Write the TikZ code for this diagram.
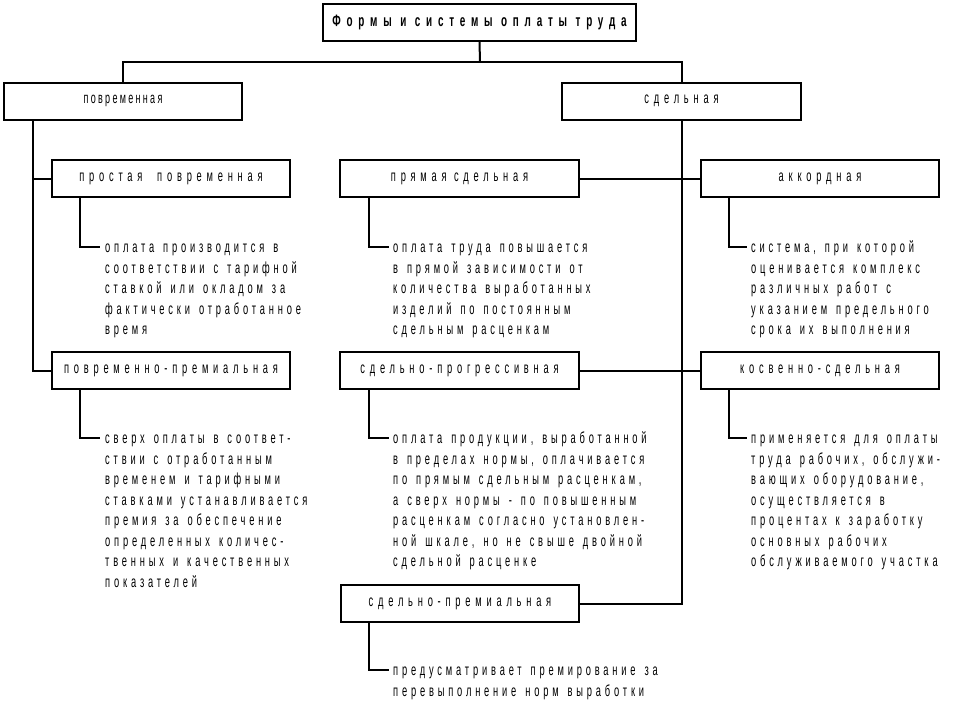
\documentclass[tikz,border=0pt]{standalone}
\usepackage{fontspec}
\setmainfont{Liberation Sans}
\newfontfamily\nf[FakeStretch=0.58,LetterSpace=24,WordSpace=1.4]{Liberation Sans}
\newfontfamily\bxf[FakeStretch=0.58,LetterSpace=30]{Liberation Sans}
\newfontfamily\nnf[FakeStretch=0.58,LetterSpace=15]{Liberation Sans}
\newfontfamily\tf[FakeStretch=0.6,LetterSpace=35]{Liberation Sans}
\newcommand\desctext[1]{\parbox[t]{320pt}{\nf\fontsize{16}{20.5}\selectfont #1}}
\tikzset{
  box/.style={draw, line width=2pt, minimum width=238pt, minimum height=37pt, inner sep=0pt,
    font=\bxf\fontsize{16}{18}\selectfont},
  conn/.style={line width=2pt},
  desc/.style={anchor=base west, inner sep=0pt}
}
\begin{document}
\begin{tikzpicture}[x=1pt,y=-1pt]
\useasboundingbox (0,0) rectangle (960,720);
% boxes
\node[box, minimum width=313pt, font=\tf\bfseries\fontsize{16.5}{18}\selectfont] (title) at (479.5,22.5) {Формы и системы оплаты труда};
\node[box, font=\nnf\fontsize{15.5}{18}\selectfont] (vr) at (123,101) {повременная};
\node[box, minimum width=239pt] (sd) at (681.5,101) {сдельная};
\node[box] (ps) at (171,178.5) {простая\ \ повременная};
\node[box] (vp) at (171,370.5) {повременно-премиальная};
\node[box, minimum width=239pt] (pr) at (459.5,178.5) {прямая сдельная};
\node[box, minimum width=239pt] (pg) at (459.5,370.5) {сдельно-прогрессивная};
\node[box] (sp) at (460,603.5) {сдельно-премиальная};
\node[box] (ak) at (820,178.5) {аккордная};
\node[box] (ks) at (820,370.5) {косвенно-сдельная};
% top connectors
\coordinate (j) at (480,62);
\draw[conn] (title.south) -- (j);
\draw[conn] (vr.north) |- (j) -| (sd.north);
% left trunk
\draw[conn] ([xshift=30pt]vr.south west) |- (ps.west);
\draw[conn] ([xshift=30pt]vr.south west) |- (vp.west);
% right trunk
\draw[conn] (sd.south) |- (sp.east);
\draw[conn] (pr.east) -- (ak.west);
\draw[conn] (pg.east) -- (ks.west);
% description ends
\coordinate (c1) at (100,247);
\coordinate (c2) at (389,247);
\coordinate (c3) at (747,247);
\coordinate (c4) at (100,438);
\coordinate (c5) at (389,438);
\coordinate (c6) at (747,438);
\coordinate (c7) at (389,670);
\draw[conn] ([xshift=29pt]ps.south west) |- (c1);
\draw[conn] ([xshift=30pt]pr.south west) |- (c2);
\draw[conn] ([xshift=29pt]ak.south west) |- (c3);
\draw[conn] ([xshift=29pt]vp.south west) |- (c4);
\draw[conn] ([xshift=30pt]pg.south west) |- (c5);
\draw[conn] ([xshift=29pt]ks.south west) |- (c6);
\draw[conn] ([xshift=29pt]sp.south west) |- (c7);
% descriptions
\node[desc] (d1) at ([shift={(5,5.5)}]c1) {\desctext{оплата производится в\\соответствии с тарифной\\ставкой или окладом за\\фактически отработанное\\время}};
\node[desc] (d2) at ([shift={(4,5.5)}]c2) {\desctext{оплата труда повышается\\в прямой зависимости от\\количества выработанных\\изделий по постоянным\\сдельным расценкам}};
\node[desc] (d3) at ([shift={(4,5.5)}]c3) {\desctext{система, при которой\\оценивается комплекс\\различных работ с\\указанием предельного\\срока их выполнения}};
\node[desc] (d4) at ([shift={(5,5.5)}]c4) {\desctext{сверх оплаты в соответ-\\ствии с отработанным\\временем и тарифными\\ставками устанавливается\\премия за обеспечение\\определенных количес-\\твенных и качественных\\показателей}};
\node[desc] (d5) at ([shift={(4,5.5)}]c5) {\desctext{оплата продукции, выработанной\\в пределах нормы, оплачивается\\по прямым сдельным расценкам,\\а сверх нормы - по повышенным\\расценкам согласно установлен-\\ной шкале, но не свыше двойной\\сдельной расценке}};
\node[desc] (d6) at ([shift={(4,5.5)}]c6) {\desctext{применяется для оплаты\\труда рабочих, обслужи-\\вающих оборудование,\\осуществляется в\\процентах к заработку\\основных рабочих\\обслуживаемого участка}};
\node[desc] (d7) at ([shift={(4,5.5)}]c7) {\desctext{предусматривает премирование за\\перевыполнение норм выработки}};
\end{tikzpicture}
\end{document}
